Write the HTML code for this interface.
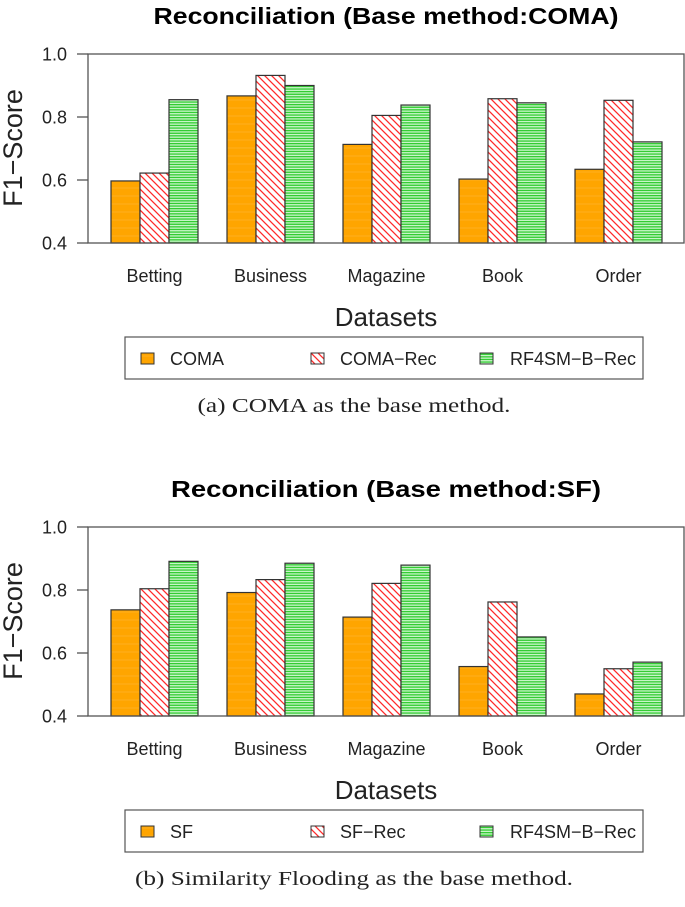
<!DOCTYPE html>
<html><head><meta charset="utf-8"><style>
html,body{margin:0;padding:0;background:#fff;}
svg{display:block;font-family:"Liberation Sans",Arial,sans-serif;}
</style></head><body>
<svg id="fig" width="685" height="907" viewBox="0 0 685 907">
<defs>
<pattern id="pOrange" patternUnits="userSpaceOnUse" width="8" height="8"><rect width="8" height="8" fill="#ffa500"/><line x1="0" y1="4" x2="8" y2="4" stroke="#ffb733" stroke-width="0.6"/></pattern>
<pattern id="pRed" patternUnits="userSpaceOnUse" width="7" height="7"><rect width="7" height="7" fill="#fff"/><path d="M-1,-1 L8,8 M-1,6 L1,8 M6,-1 L8,1" stroke="#ff2a2a" stroke-width="1.3"/></pattern>
<pattern id="pGreen" patternUnits="userSpaceOnUse" width="6" height="2.6"><rect width="6" height="2.6" fill="#c8f5c8"/><rect y="0" width="6" height="1.3" fill="#33cc33"/></pattern>
</defs>
</svg>
<script>
const categories = ["Betting","Business","Magazine","Book","Order"];
const comaSeries = [0.597,0.867,0.713,0.603,0.634];
const comaRecSeries = [0.622,0.932,0.805,0.858,0.853];
const comaRf4smSeries = [0.855,0.900,0.838,0.845,0.721];
const sfSeries = [0.737,0.792,0.714,0.557,0.470];
const sfRecSeries = [0.804,0.833,0.821,0.762,0.550];
const sfRf4smSeries = [0.891,0.885,0.879,0.651,0.571];
const yTicks = [0.4,0.6,0.8,1.0];
const yTickLabels = ["0.4","0.6","0.8","1.0"];
const legendA = ["COMA","COMA\u2212Rec","RF4SM\u2212B\u2212Rec"];
const legendB = ["SF","SF\u2212Rec","RF4SM\u2212B\u2212Rec"];

const NS="http://www.w3.org/2000/svg";
const svg=document.getElementById('fig');
function mk(tag,attrs,parent,text){const e=document.createElementNS(NS,tag);for(const k in attrs)e.setAttribute(k,attrs[k]);if(text!==undefined)e.textContent=text;(parent||svg).appendChild(e);return e;}
const fills=["url(#pOrange)","url(#pRed)","url(#pGreen)"];
const seriesNames=["base","rec","rf4sm"];

function chart(off,title,titleLen,series,legend,caption,capLen,key){
  const g=mk('g',{});
  
  
  const left=88,right=684,top=54+off,bottom=243+off;
  const y=v=>bottom-(v-0.4)/(1.0-0.4)*(bottom-top);
  const bw=29,unit=29;
  const x0=111;
  const xBar=(ci,si)=>x0+ci*4*unit+si*bw;
  const t=mk('text',{x:386,y:24+off,'text-anchor':'middle','font-size':'23','font-weight':'bold',textLength:titleLen,lengthAdjust:'spacingAndGlyphs'},g,title);
  
  
  series.forEach((arr,si)=>{
    arr.forEach((v,ci)=>{
      const r=mk('rect',{x:xBar(ci,si),y:y(v),width:bw,height:bottom-y(v),fill:fills[si],stroke:'#333','stroke-width':'1.2'},g);
      
      
    });
  });
  const box=mk('rect',{x:left,y:top,width:right-left,height:bottom-top,fill:'none',stroke:'#555','stroke-width':'1.3'},g);
  
  
  yTicks.forEach((v,i)=>{
    mk('line',{x1:left-11,x2:left,y1:y(v),y2:y(v),stroke:'#555','stroke-width':'1.3'},g);
    const tl=mk('text',{x:67,y:y(v)+6.5,'text-anchor':'end','font-size':'18','fill':'#222'},g,yTickLabels[i]);
    
    
  });
  categories.forEach((c,ci)=>{
    const cl=mk('text',{x:xBar(ci,1)+bw/2,y:282+off,'text-anchor':'middle','font-size':'18','fill':'#222'},g,c);
    
    
  });
  const yl=mk('text',{x:0,y:0,'text-anchor':'middle','font-size':'27','fill':'#222',transform:'translate(22,'+(148+off)+') rotate(-90)'},g,'F1\u2212Score');
  
  
  const xl=mk('text',{x:386,y:326+off,'text-anchor':'middle','font-size':'26','fill':'#222'},g,'Datasets');
  
  
  const lg=mk('g',{},g);
  
  
  mk('rect',{x:125,y:337+off,width:518,height:42,fill:'#fff',stroke:'#555','stroke-width':'1.2'},lg);
  const sx=[141,311,480],tx=[170,340,510];
  legend.forEach((name,i)=>{
    const e=mk('g',{},lg);
    
    
    mk('rect',{x:sx[i],y:353+off,width:13,height:11,fill:fills[i],stroke:'#333','stroke-width':'1'},e);
    mk('text',{x:tx[i],y:365+off,'font-size':'18','fill':'#222'},e,name);
  });
  const cap=mk('text',{x:354,y:412+off,'text-anchor':'middle','font-size':'20','font-family':'"Liberation Serif",serif','fill':'#222',textLength:capLen,lengthAdjust:'spacingAndGlyphs'},g,caption);
  
  
}
chart(0,'Reconciliation (Base method:COMA)',465,[comaSeries,comaRecSeries,comaRf4smSeries],legendA,'(a) COMA as the base method.',313,'coma');
chart(473,'Reconciliation (Base method:SF)',430,[sfSeries,sfRecSeries,sfRf4smSeries],legendB,'(b) Similarity Flooding as the base method.',438,'sf');
</script>
</body></html>
